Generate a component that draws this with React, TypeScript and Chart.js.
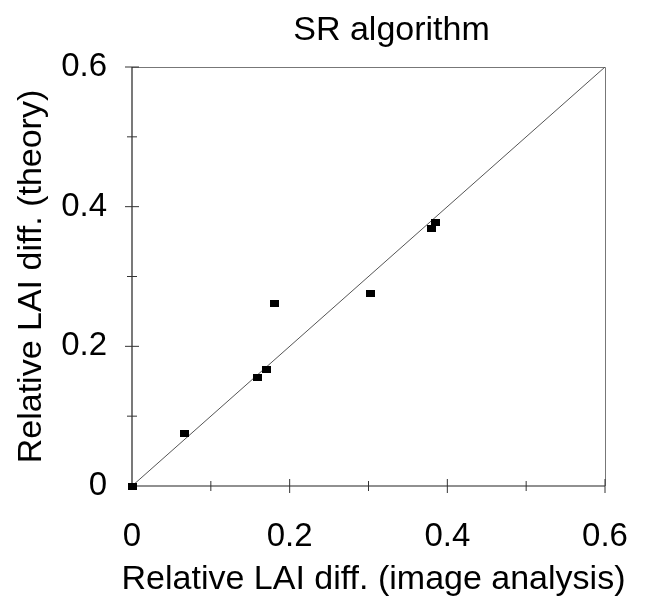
import React, { useEffect, useRef } from "react";
import { Chart, registerables } from "chart.js";

Chart.register(...registerables);

const titleText = "SR algorithm";
const xTitle = "Relative LAI diff. (image analysis)";
const yTitle = "Relative LAI diff. (theory)";

const xValues = [0.001, 0.067, 0.159, 0.17, 0.181, 0.303, 0.38, 0.385];
const yValues = [0.0, 0.075, 0.155, 0.167, 0.262, 0.276, 0.369, 0.378];

const lineX = [0, 0.6];
const lineY = [0, 0.6];

const tickValues = [0, 0.1, 0.2, 0.3, 0.4, 0.5, 0.6];
const tickLabels = ["0", "", "0.2", "", "0.4", "", "0.6"];
const majorTicks = [0, 0.2, 0.4, 0.6];

const FONT = "'Liberation Sans', Arial, Helvetica, sans-serif";

function makeMarker() {
  const c = document.createElement("canvas");
  c.width = 9;
  c.height = 7;
  const g = c.getContext("2d");
  if (g) {
    g.fillStyle = "#000";
    g.fillRect(0, 0, 9, 7);
  }
  return c;
}

// titles drawn on the canvas (Chart.js would squeeze the wide x title to the plot width)
const titlesPlugin = {
  id: "titles",
  afterDraw(chart: any) {
    const { ctx, chartArea } = chart;
    const cx = (chartArea.left + chartArea.right) / 2;
    ctx.save();
    ctx.fillStyle = "#000";
    ctx.textAlign = "center";
    ctx.textBaseline = "alphabetic";
    ctx.font = `34px ${FONT}`;
    ctx.fillText(titleText, cx + 23, 40);
    ctx.fillText(xTitle, cx + 5, 589);
    ctx.restore();
  },
};

const framePlugin = {
  id: "frameTicks",
  beforeDatasetsDraw(chart: any) {
    const { ctx, chartArea, scales } = chart;
    const { left, right, top, bottom } = chartArea;
    ctx.save();
    ctx.strokeStyle = "#777";
    ctx.lineWidth = 1;
    ctx.beginPath();
    ctx.moveTo(left, top + 0.5);
    ctx.lineTo(right + 0.5, top + 0.5);
    ctx.lineTo(right + 0.5, bottom);
    ctx.stroke();
    ctx.strokeStyle = "#222";
    ctx.lineWidth = 1.2;
    ctx.beginPath();
    ctx.moveTo(left, top);
    ctx.lineTo(left, bottom);
    ctx.lineTo(right, bottom);
    ctx.stroke();
    ctx.lineWidth = 1;
    ctx.strokeStyle = "#333";
    tickValues.forEach((v) => {
      const major = majorTicks.includes(v);
      if (v > 0) {
        const h = major ? 7 : 5;
        const px = scales.x.getPixelForValue(v);
        ctx.beginPath();
        ctx.moveTo(px, bottom - h);
        ctx.lineTo(px, bottom + h);
        ctx.stroke();
        const py = scales.y.getPixelForValue(v);
        ctx.beginPath();
        ctx.moveTo(left - h, py);
        ctx.lineTo(left + h, py);
        ctx.stroke();
      }
    });
    ctx.restore();
  },
};

export default function App() {
  const ref = useRef<HTMLCanvasElement | null>(null);

  useEffect(() => {
    if (!ref.current) return;
    const marker = makeMarker();
    const chart = new Chart(ref.current, {
      type: "scatter",
      data: {
        datasets: [
          {
            type: "scatter",
            data: xValues.map((x, i) => ({ x, y: yValues[i] })),
            pointStyle: marker as any,
            pointRadius: 5,
            backgroundColor: "#000",
            borderColor: "#000",
            clip: false as any,
            order: 1,
          },
          {
            type: "line",
            data: lineX.map((x, i) => ({ x, y: lineY[i] })),
            borderColor: "#555",
            borderWidth: 1,
            pointRadius: 0,
            fill: false,
            order: 2,
          } as any,
        ],
      },
      options: {
        responsive: false,
        animation: false,
        layout: { padding: { left: 0, right: 44, top: 67, bottom: 0 } },
        plugins: {
          legend: { display: false },
          tooltip: { enabled: false },
          title: { display: false },
        },
        scales: {
          x: {
            type: "linear",
            min: 0,
            max: 0.6,
            afterBuildTicks: (s: any) => {
              s.ticks = tickValues.map((v) => ({ value: v }));
            },
            afterFit: (s: any) => {
              s.height = 114;
              s.paddingLeft = 0;
              s.paddingRight = 0;
            },
            ticks: {
              color: "#000",
              font: { family: FONT, size: 33 },
              padding: 31,
              maxRotation: 0,
              autoSkip: false,
              callback: (_v: any, i: number) => tickLabels[i],
            },
            grid: { display: false, drawTicks: false },
            border: { display: false },
            title: { display: false, text: xTitle },
          },
          y: {
            type: "linear",
            min: 0,
            max: 0.6,
            afterBuildTicks: (s: any) => {
              s.ticks = tickValues.map((v) => ({ value: v }));
            },
            afterFit: (s: any) => {
              s.width = 132;
              s.paddingTop = 0;
              s.paddingBottom = 0;
            },
            ticks: {
              color: "#000",
              font: { family: FONT, size: 33 },
              padding: 25,
              autoSkip: false,
              callback: (_v: any, i: number) => tickLabels[i],
            },
            grid: { display: false, drawTicks: false },
            border: { display: false },
            title: {
              display: true,
              text: yTitle,
              color: "#000",
              font: { family: FONT, size: 34 },
              padding: { top: 11, bottom: 0 },
            },
          },
        },
      },
      plugins: [framePlugin, titlesPlugin],
    });
    return () => chart.destroy();
  }, []);

  return (
    <div style={{ position: "fixed", left: 0, top: 0, width: 649, height: 600, background: "#fff" }}>
      <canvas ref={ref} width={649} height={600} style={{ width: 649, height: 600, display: "block" }} />
    </div>
  );
}
